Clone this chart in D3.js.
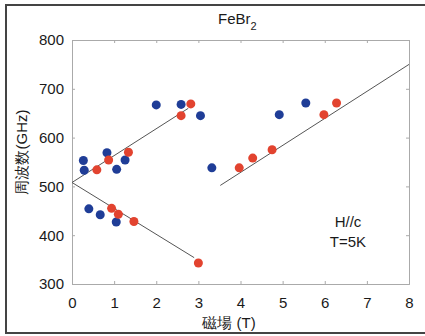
<!DOCTYPE html>
<html>
<head>
    <meta charset="UTF-8">
    <title>FeBr2</title>
    <script src="https://d3js.org/d3.v7.min.js"></script>
    <style>
        body {
            margin: 0;
            padding: 0;
            background: #fff;
            overflow: hidden;
        }
        svg {
            display: block;
        }
        text {
            font-family: "Liberation Sans", Arial, sans-serif;
            fill: #1a1a1a;
        }
    </style>
</head>
<body>
    <svg></svg>

    <script>
        // 青：測定点
        const blueH = [0.27, 0.29, 0.40, 0.67, 0.83, 1.05, 1.06, 1.26, 2.00, 2.59, 3.05, 3.32, 4.92, 5.55];
        const blueF = [553, 533, 454, 442, 569, 427, 535, 554, 667, 668, 645, 538, 647, 671];

        // 赤：測定点
        const redH = [0.59, 0.87, 0.94, 1.10, 1.34, 1.47, 2.59, 2.82, 3.00, 3.97, 4.29, 4.75, 5.98, 6.28];
        const redF = [534, 554, 455, 443, 570, 428, 645, 669, 343, 538, 558, 575, 647, 671];

        // 直線（始点H, 始点f, 終点H, 終点f）
        const lineH1 = [0, 0, 3.52];
        const lineF1 = [508, 508, 502];
        const lineH2 = [2.76, 2.90, 8.0];
        const lineF2 = [660, 354, 750];

        const xTicks = [0, 1, 2, 3, 4, 5, 6, 7, 8];
        const yTicks = [300, 400, 500, 600, 700, 800];

        const width = 425, height = 336;
        const m = {left: 72, right: 16, top: 40, bottom: 52};

        const svg = d3.select("svg")
            .attr("width", width)
            .attr("height", height);

        // 外枠
        svg.append("rect")
            .attr("x", 6).attr("y", 5)
            .attr("width", width + 10).attr("height", 328)
            .attr("fill", "none")
            .attr("stroke", "#444")
            .attr("stroke-width", 2);

        const x = d3.scaleLinear().domain([0, 8]).range([m.left, width - m.right]);
        const y = d3.scaleLinear().domain([300, 800]).range([height - m.bottom, m.top]);

        // 軸（内向きの目盛）
        const axisColor = "#aaa";
        const gb = svg.append("g").attr("transform", `translate(0,${y(300)})`)
            .call(d3.axisBottom(x).tickValues(xTicks).tickSize(-3).tickPadding(10));
        const gt = svg.append("g").attr("transform", `translate(0,${y(800)})`)
            .call(d3.axisTop(x).tickValues(xTicks).tickSize(-3).tickFormat(""));
        const gl = svg.append("g").attr("transform", `translate(${x(0)},0)`)
            .call(d3.axisLeft(y).tickValues(yTicks).tickSize(-3).tickPadding(8));
        const gr = svg.append("g").attr("transform", `translate(${x(8)},0)`)
            .call(d3.axisRight(y).tickValues(yTicks).tickSize(-3).tickFormat(""));

        [gb, gt, gl, gr].forEach(g => {
            g.selectAll(".domain").attr("stroke", axisColor);
            g.selectAll(".tick line").attr("stroke", axisColor);
            g.selectAll("text")
                .attr("font-size", 15)
                .attr("fill", "#1a1a1a")
                .attr("font-family", "Liberation Sans, Arial, sans-serif");
        });
        gl.selectAll("text").attr("dy", "0.32em");
        gb.selectAll("text").attr("dy", "0.9em");

        // 直線
        svg.append("g")
            .selectAll("line")
            .data(lineH1.map((h, i) => ({h1: h, f1: lineF1[i], h2: lineH2[i], f2: lineF2[i]})))
            .enter().append("line")
            .attr("x1", d => x(d.h1)).attr("y1", d => y(d.f1))
            .attr("x2", d => x(d.h2)).attr("y2", d => y(d.f2))
            .attr("stroke", "#555")
            .attr("stroke-width", 1);

        // 点
        svg.append("g")
            .selectAll("circle")
            .data(blueH.map((h, i) => ({h: h, f: blueF[i]})))
            .enter().append("circle")
            .attr("cx", d => x(d.h)).attr("cy", d => y(d.f))
            .attr("r", 4.5)
            .attr("fill", "#1f3d97");

        svg.append("g")
            .selectAll("circle")
            .data(redH.map((h, i) => ({h: h, f: redF[i]})))
            .enter().append("circle")
            .attr("cx", d => x(d.h)).attr("cy", d => y(d.f))
            .attr("r", 4.5)
            .attr("fill", "#e2432f");

        // タイトル
        const title = svg.append("text")
            .attr("x", 218).attr("y", 24)
            .attr("font-size", 15);
        title.append("tspan").text("FeBr");
        title.append("tspan").attr("font-size", 11).attr("dy", 6).text("2");

        // 軸ラベル
        svg.append("text")
            .attr("x", 229).attr("y", 328)
            .attr("text-anchor", "middle")
            .attr("font-size", 15)
            .attr("font-family", "Noto Sans CJK JP, sans-serif")
            .text("磁場 (T)");

        svg.append("text")
            .attr("transform", "translate(27,152) rotate(-90)")
            .attr("text-anchor", "middle")
            .attr("font-size", 15)
            .attr("font-family", "Noto Sans CJK JP, sans-serif")
            .text("周波数(GHz)");

        // 注記
        svg.append("text")
            .attr("x", 348).attr("y", 227)
            .attr("text-anchor", "middle")
            .attr("font-size", 15)
            .text("H//c");
        svg.append("text")
            .attr("x", 348).attr("y", 247)
            .attr("text-anchor", "middle")
            .attr("font-size", 15)
            .text("T=5K");
    </script>
</body>
</html>
